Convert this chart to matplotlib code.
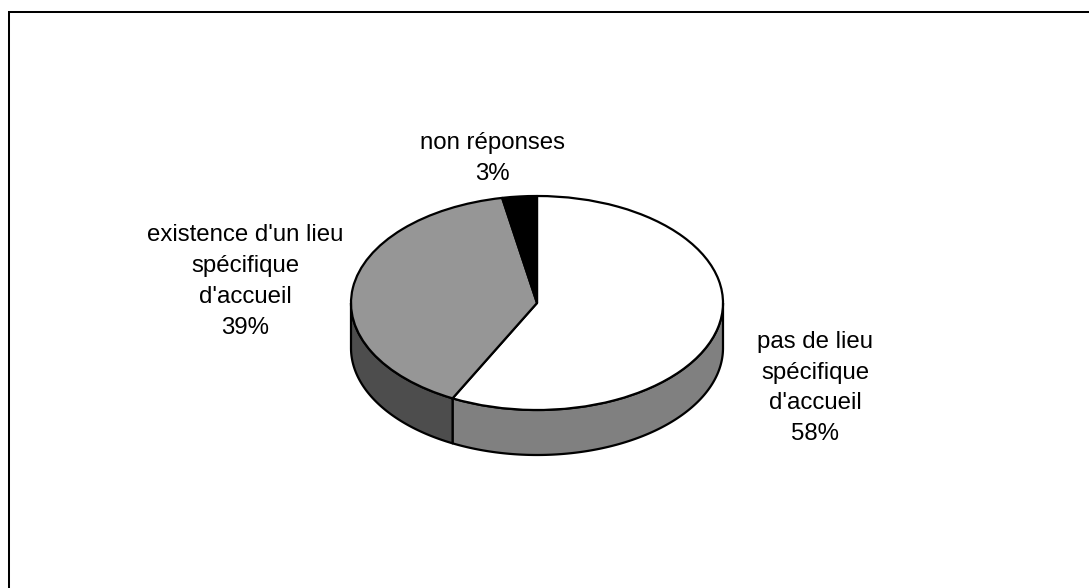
import numpy as np
import matplotlib
matplotlib.use("Agg")
import matplotlib.pyplot as plt

# Chart data
categories = ["pas de lieu\nspécifique\nd'accueil", "existence d'un lieu\nspécifique\nd'accueil", "non réponses"]
values = [57.5, 39.5, 3.0]
percent_labels = ["58%", "39%", "3%"]
top_colors = ["#ffffff", "#969696", "#000000"]
wall_colors = ["#808080", "#4d4d4d", "#000000"]

W, H = 1089, 588
CX, CY, RX, RY, DEPTH = 537.0, 303.0, 186.0, 107.0, 45.0
LW = 1.6

fig = plt.figure(figsize=(W / 100, H / 100), dpi=100, facecolor="white")
ax = fig.add_axes([0, 0, 1, 1])
ax.set_axis_off()
ax.set_xlim((0 - CX) / RX, (W - CX) / RX)
ax.set_ylim((CY - H) / RY, CY / RY)
d = DEPTH / RY

# Side wall, only the front half of the disc is visible
ends = 90 - np.cumsum([0] + values) * 3.6
for i in range(len(values)):
    a0, a1 = ends[i], ends[i + 1]
    lo, hi = max(a1, -180), min(a0, 0)
    if lo >= hi:
        continue
    t = np.radians(np.linspace(hi, lo, 200))
    xs = np.cos(t)
    xp = np.r_[xs, xs[::-1]]
    yp = np.r_[np.sin(t), np.sin(t)[::-1] - d]
    ax.fill(xp, yp, facecolor=wall_colors[i], edgecolor="black", lw=LW, zorder=1, joinstyle="round")

# Top face
ax.pie(values, startangle=90, counterclock=False, colors=top_colors,
       wedgeprops=dict(edgecolor="black", linewidth=LW, joinstyle="round"), radius=1, frame=True)
ax.set_aspect("auto")
ax.set_xlim((0 - CX) / RX, (W - CX) / RX)
ax.set_ylim((CY - H) / RY, CY / RY)
ax.set_axis_off()

# Labels, placed in pixels of the picture
def px(x, y):
    return x / W, 1 - y / H

font = dict(family="Liberation Sans", fontsize=17.3, color="black", ha="center", va="center", linespacing=1.51)
fig.text(*px(815, 388), categories[0] + "\n" + percent_labels[0], **font)
fig.text(*px(245, 281.5), categories[1] + "\n" + percent_labels[1], **font)
fig.text(*px(492.5, 158.5), categories[2] + "\n" + percent_labels[2], **font)

# Frame: left and top edges only, the others are cropped in the picture
fx = [9, 9, 1089]
fy = [588, 12, 12]
ax.plot((np.array(fx) - CX) / RX, (CY - np.array(fy)) / RY, color="black", lw=1.45,
        solid_joinstyle="miter", clip_on=False)

fig.savefig("out.png", dpi=100)
